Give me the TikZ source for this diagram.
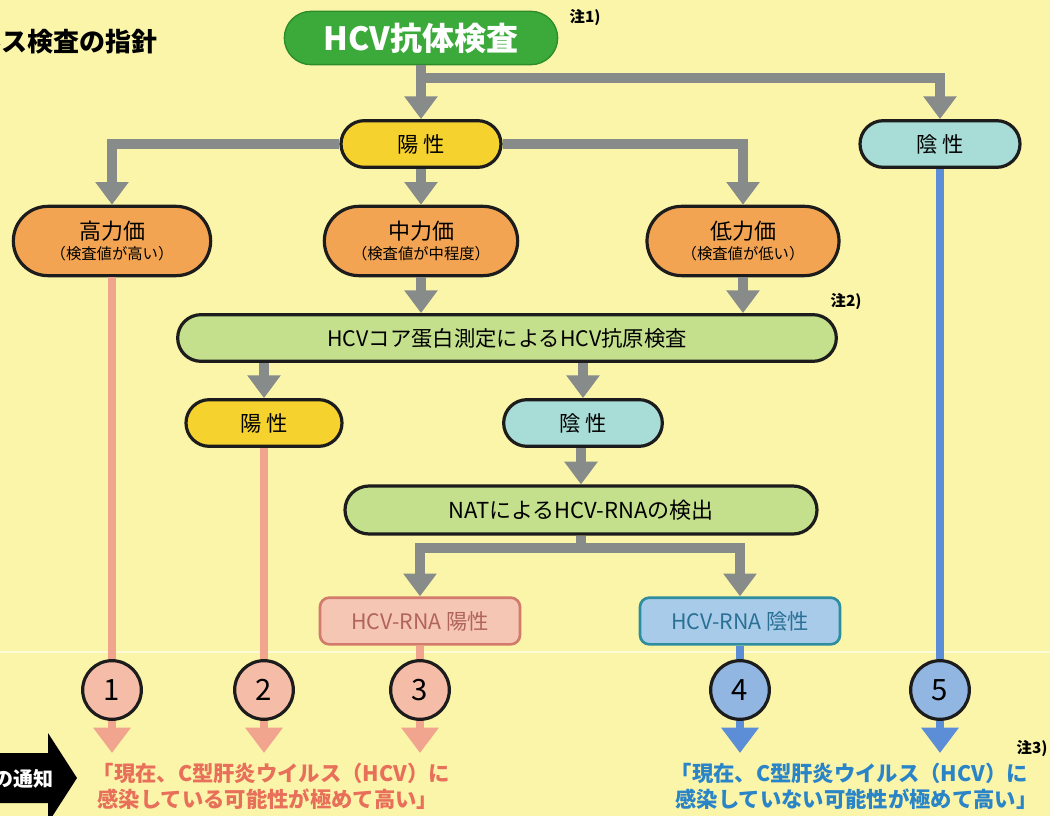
\documentclass[tikz,border=0pt]{standalone}
\usepackage{fontspec}
\setmainfont{Noto Sans CJK JP}
\usetikzlibrary{arrows.meta,shapes.misc}
\definecolor{bg}{HTML}{FBF5AA}
\definecolor{garr}{HTML}{878B8A}
\definecolor{hgreen}{HTML}{3BAA3A}
\definecolor{hgreendk}{HTML}{2C8C2C}
\definecolor{yel}{HTML}{F6D22E}
\definecolor{cyn}{HTML}{A8DCD6}
\definecolor{org}{HTML}{F2A452}
\definecolor{lgreen}{HTML}{C5E08C}
\definecolor{pline}{HTML}{F2A58E}
\definecolor{pcirc}{HTML}{F5BCA8}
\definecolor{rposfill}{HTML}{F6C6B4}
\definecolor{rposline}{HTML}{D27A6C}
\definecolor{rpostext}{HTML}{B0645A}
\definecolor{rnegfill}{HTML}{A9CBEA}
\definecolor{rnegline}{HTML}{2E8E9E}
\definecolor{rnegtext}{HTML}{2A7094}
\definecolor{bline}{HTML}{5B8ED6}
\definecolor{bcirc}{HTML}{92B6E2}
\definecolor{ptext}{HTML}{E86F5A}
\definecolor{btext}{HTML}{2A84C8}
\definecolor{boxline}{HTML}{1C1C1C}
\begin{document}
\begin{tikzpicture}[x=0.75pt,y=-0.75pt,
  pill/.style={rounded rectangle, draw=boxline, line width=2.4pt, inner sep=0pt, align=center},
  lbl/.style={font=\fontsize{16}{18}\selectfont},
  grade/.style={pill, fill=org, minimum height=52pt, font=\fontsize{16.5}{18}\selectfont},
  rbox/.style={rectangle, rounded corners=7pt, line width=2pt, minimum width=150pt, minimum height=35pt, inner sep=0pt, font=\fontsize{16}{18}\selectfont},
  circ/.style={circle, draw=boxline, line width=2.4pt, minimum size=44pt, inner sep=0pt, font=\fontsize{22}{24}\selectfont},
  garrow/.style={draw=garr, line width=7.5pt, -{Triangle[width=24pt,length=17pt]}},
  gline/.style={draw=garr, line width=7.5pt},
  plinest/.style={draw=pline, line width=6pt},
  parrow/.style={draw=pline, line width=6pt, -{Triangle[width=27pt,length=19pt]}},
  blinest/.style={draw=bline, line width=6pt},
  barrow/.style={draw=bline, line width=6pt, -{Triangle[width=27pt,length=19pt]}},
  note/.style={font=\bfseries\fontsize{11.5}{13}\selectfont},
  result/.style={anchor=north west, align=left, font=\bfseries\fontsize{16}{19.5}\selectfont}
]
\useasboundingbox (0,0) rectangle (1050,816);
\fill[bg] (0,0) rectangle (1050,816);
\draw[white!55!bg, line width=0.8pt] (0,652) -- (1050,652);

% title
\node[anchor=east, font=\bfseries\fontsize{19.5}{22}\selectfont] (title) at (162,42) {ルス検査の指針};

% nodes
\node[pill, fill=hgreen, draw=hgreendk, line width=1pt, minimum width=205pt, minimum height=40pt,
      text=white, font=\bfseries\fontsize{24}{28}\selectfont] (hcv) at (421,38) {HCV抗体検査};
\node[note, anchor=west] (n1) at (565,18) {注1)};

\node[pill, fill=yel, minimum width=120pt, minimum height=35pt, lbl] (pos1) at (421,144) {陽 性};
\node[pill, fill=cyn, minimum width=120pt, minimum height=35pt, lbl] (neg1) at (940,144) {陰 性};

\node[grade, minimum width=148pt] (high) at (112,241) {高力価\\[-3pt]{\fontsize{11.5}{13}\selectfont （検査値が高い）}};
\node[grade, minimum width=145pt] (mid) at (421,241) {中力価\\[-3pt]{\fontsize{11.5}{13}\selectfont （検査値が中程度）}};
\node[grade, minimum width=144pt] (low) at (743,241) {低力価\\[-3pt]{\fontsize{11.5}{13}\selectfont （検査値が低い）}};

\node[pill, fill=lgreen, minimum width=494pt, minimum height=35pt, lbl] (core) at (507,338) {HCVコア蛋白測定によるHCV抗原検査};
\node[note, anchor=west] (n2) at (826,302) {注2)};

\node[pill, fill=yel, minimum width=117pt, minimum height=35pt, lbl] (pos2) at (264,423) {陽 性};
\node[pill, fill=cyn, minimum width=119pt, minimum height=35pt, lbl] (neg2) at (583,423) {陰 性};

\node[pill, fill=lgreen, minimum width=354pt, minimum height=36pt, font=\fontsize{16.5}{19}\selectfont] (nat) at (581,510) {NATによるHCV-RNAの検出};

\node[rbox, fill=rposfill, draw=rposline, text=rpostext] (rpos) at (420,621) {HCV-RNA 陽性};
\node[rbox, fill=rnegfill, draw=rnegline, text=rnegtext] (rneg) at (740,621) {HCV-RNA 陰性};

% gray connectors
\coordinate (j1) at (421,78);
\draw[garrow] (hcv.south) -- (pos1.north);
\draw[garrow] (j1) -| (neg1.north);
\draw[garrow] (pos1.west) -| (high.north);
\draw[garrow] (pos1.east) -| (low.north);
\draw[garrow] (pos1.south) -- (mid.north);
\draw[garrow] (mid.south) -- (mid.south |- core.north);
\draw[garrow] (low.south) -- (low.south |- core.north);
\draw[garrow] (core.south -| pos2.north) -- (pos2.north);
\draw[garrow] (core.south -| neg2.north) -- (neg2.north);
\draw[garrow] (neg2.south -| nat.north) -- (nat.north);
\coordinate (j2) at (581,548);
\draw[gline] (nat.south) -- (j2);
\draw[garrow] (j2) -| (rpos.north);
\draw[garrow] (j2) -| (rneg.north);

% circles
\node[circ, fill=pcirc] (c1) at (112,690) {1};
\node[circ, fill=pcirc] (c2) at (264,690) {2};
\node[circ, fill=pcirc] (c3) at (420,690) {3};
\node[circ, fill=bcirc] (c4) at (740,690) {4};
\node[circ, fill=bcirc] (c5) at (940,690) {5};

\coordinate (e1) at (112,753);
\coordinate (e2) at (264,753);
\coordinate (e3) at (420,753);
\coordinate (e4) at (740,753);
\coordinate (e5) at (940,753);

\draw[plinest] (high.south) -- (c1.north);
\draw[plinest] (pos2.south) -- (c2.north);
\draw[plinest] (rpos.south) -- (c3.north);
\draw[blinest] (rneg.south) -- (c4.north);
\draw[blinest] (neg1.south) -- (c5.north);
\draw[parrow] (c1.south) -- (e1);
\draw[parrow] (c2.south) -- (e2);
\draw[parrow] (c3.south) -- (e3);
\draw[barrow] (c4.south) -- (e4);
\draw[barrow] (c5.south) -- (e5);

% black arrow at left
\fill[black] (0,753) -- (48,753) -- (48,733) -- (77,778) -- (48,823) -- (48,803) -- (0,803) -- cycle;
\node[anchor=east, text=white, font=\bfseries\fontsize{15}{17}\selectfont] (notice) at (58,779) {の通知};

% results
\node[result, text=ptext] (rp) at (88,758) {「現在、C型肝炎ウイルス（HCV）に\\\ 感染している可能性が極めて高い」};
\node[result, text=btext] (rn) at (666,758) {「現在、C型肝炎ウイルス（HCV）に\\\ 感染していない可能性が極めて高い」};
\node[note, anchor=west] (n3) at (1012,748) {注3)};
\end{tikzpicture}
\end{document}
